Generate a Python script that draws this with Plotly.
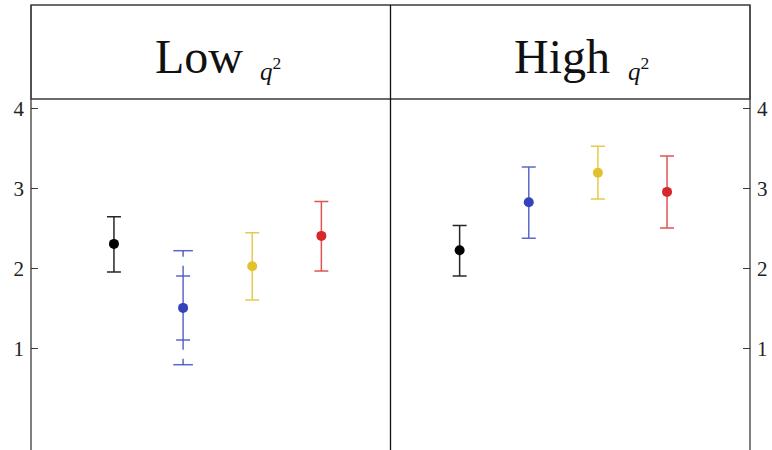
import plotly.graph_objects as go

# Kinematic regions and series
groups = ["Low", "High"]
series_colors = ["#000000", "#3343bb", "#e2c12f", "#d62828"]
bar_colors = ["rgba(0,0,0,0.85)", "rgba(51,67,187,0.8)", "rgba(226,193,47,0.85)", "rgba(214,40,40,0.8)"]

# Central values and error-bar ends, one list per region (4 series each)
low_val = [2.31, 1.51, 2.03, 2.41]
low_hi = [2.65, 1.91, 2.45, 2.84]
low_lo = [1.96, 1.11, 1.61, 1.97]

high_val = [2.23, 2.83, 3.20, 2.96]
high_hi = [2.54, 3.27, 3.53, 3.41]
high_lo = [1.91, 2.38, 2.87, 2.51]

# Extended (outer) uncertainty for the second series in the Low region
low_blue_outer_hi = 2.225
low_blue_outer_lo = 0.80

y_ticks = [1, 2, 3, 4]
y_range = [-0.266, 4.121]
x_range = [-1.2, 9.2]
divider_x = 4

FONT = "Liberation Serif"
FRAME = "#3a3a3a"

W, H = 772, 450
M_L, M_R, M_T, M_B = 31, 22, 5, 0
plot_h = H - M_T - M_B
domain_top = (H - 99) / plot_h


def paper_y(py):
    return (H - M_B - py) / plot_h


fig = go.Figure()

region_data = [(low_val, low_hi, low_lo), (high_val, high_hi, high_lo)]
for g, (vals, his, los) in enumerate(region_data):
    for s, v in enumerate(vals):
        xpos = g * 5 + s
        fig.add_trace(go.Scatter(
            x=[xpos], y=[v], mode="markers",
            marker=dict(size=10, color=series_colors[s]),
            error_y=dict(type="data", symmetric=False,
                         array=[his[s] - v], arrayminus=[v - los[s]],
                         color=bar_colors[s], thickness=1.5, width=7),
            showlegend=False, hoverinfo="skip",
        ))

# Outer (dashed) uncertainty on the Low-region blue point
bx = 1
for y_end, y_start in [(low_blue_outer_hi, low_hi[1]), (low_blue_outer_lo, low_lo[1])]:
    fig.add_trace(go.Scatter(
        x=[bx, bx], y=[y_end, y_start], mode="lines",
        line=dict(color=bar_colors[1], width=1.5, dash="6px,9px,11px"),
        showlegend=False, hoverinfo="skip",
    ))
fig.add_trace(go.Scatter(
    x=[bx, bx], y=[low_blue_outer_hi, low_blue_outer_lo], mode="markers",
    marker=dict(symbol="line-ew", size=14,
                line=dict(color=bar_colors[1], width=1.5)),
    showlegend=False, hoverinfo="skip",
))
# Dummy trace to activate the right-hand axis
fig.add_trace(go.Scatter(x=[None], y=[None], yaxis="y2", showlegend=False))

axis_common = dict(
    range=y_range, tickvals=y_ticks, ticktext=[str(t) for t in y_ticks],
    ticks="inside", ticklen=7, tickwidth=1.2, tickcolor=FRAME,
    showgrid=False, zeroline=False, showline=False,
    tickfont=dict(family=FONT, size=21, color="#222"),
    domain=[0, domain_top],
)
fig.update_layout(
    width=W, height=H,
    margin=dict(l=M_L, r=M_R, t=M_T, b=M_B),
    paper_bgcolor="white", plot_bgcolor="white",
    font=dict(family=FONT, color="#222"),
    xaxis=dict(range=x_range, showgrid=False, zeroline=False,
               showticklabels=False, ticks="", showline=False),
    yaxis=dict(side="left", ticklabelstandoff=6, **axis_common),
    yaxis2=dict(side="right", overlaying="y", anchor="x",
                ticklabelstandoff=6, **axis_common),
)

line = dict(color=FRAME, width=1.3)
shapes = [
    # header box
    dict(type="rect", xref="paper", yref="paper", x0=0, x1=1,
         y0=domain_top, y1=1, line=line, layer="above"),
    # left and right frame
    dict(type="line", xref="paper", yref="paper", x0=0, x1=0, y0=0, y1=1, line=line),
    dict(type="line", xref="paper", yref="paper", x0=1, x1=1, y0=0, y1=1, line=line),
    # divider between regions
    dict(type="line", xref="x", yref="paper", x0=divider_x, x1=divider_x,
         y0=0, y1=1, line=dict(color="#111", width=1.3)),
]
fig.update_layout(shapes=shapes)

# Region headings
title_pos = [(1.225, 2.08), (6.48, 7.40)]
for g, (cx, qx) in zip(groups, title_pos):
    fig.add_annotation(x=cx, xref="x", y=paper_y(56), yref="paper",
                       text=g, showarrow=False, xanchor="center", yanchor="middle",
                       font=dict(family=FONT, size=48, color="#111"))
    fig.add_annotation(x=qx, xref="x", y=paper_y(69), yref="paper",
                       text="<i>q</i><sup>2</sup>", showarrow=False,
                       xanchor="left", yanchor="middle",
                       font=dict(family=FONT, size=25, color="#111"))

fig.write_html("out.html")
